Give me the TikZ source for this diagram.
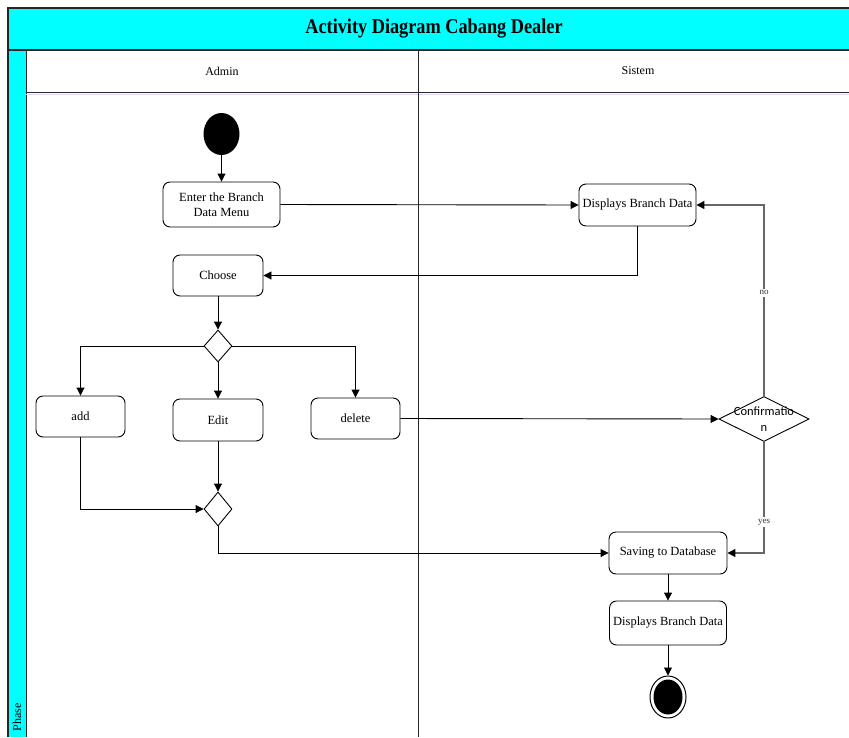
\documentclass[tikz,border=0pt]{standalone}
\usepackage{fontspec}
\setmainfont{Liberation Serif}
\newfontfamily\carlito{Carlito}
\usetikzlibrary{arrows.meta,shapes.geometric,calc}
\definecolor{cyanband}{RGB}{0,255,255}
\tikzset{
  actbox/.style={draw=black,rounded corners=7pt,fill=white,line width=0.9pt,inner sep=2pt,align=center,font=\fontsize{12.5}{14.5}\selectfont},
  dec/.style={draw=black,diamond,aspect=0.875,fill=white,line width=0.9pt,inner sep=0pt},
  flow/.style={draw=black,line width=0.9pt,-{Triangle[length=8pt,width=8pt]}},
  gflow/.style={draw=black!60,line width=1.2pt,-{Triangle[length=8pt,width=8pt,fill=black,color=black]}},
  lbl/.style={font=\fontsize{9}{10}\selectfont,fill=white,inner sep=1.5pt,text=black!80}
}
\begin{document}
\begin{tikzpicture}[x=1pt,y=-1pt]
\useasboundingbox (0,0) rectangle (849,737);
% frame
\fill[white] (0,0) rectangle (849,737);
\fill[cyanband] (8,8) rectangle (849,50);
\fill[cyanband] (8,50) rectangle (26,737);
\draw[line width=1.2pt,black!85] (8,737) -- (8,8) -- (849,8);
\draw[line width=1.2pt,black!85] (8,50) -- (849,50);
\draw[line width=1pt,black!85] (26,50) -- (26,737);
\draw[line width=1pt,blue!15] (26,94) -- (849,94);
\draw[line width=1pt,black!85] (26,92) -- (849,92);
\draw[line width=1pt,black!85] (418,50) -- (418,737);
\node (title) at (434,29) {\scalebox{0.87}[1]{\fontsize{21}{24}\selectfont\bfseries Activity Diagram Cabang Dealer}};
\node (phase) [rotate=90,anchor=west,font=\fontsize{12}{14}\selectfont] at (17,735) {Phase};
\node (admin) at (222,71) {\fontsize{12}{14}\selectfont Admin};
\node (sistem) at (638,71) {\fontsize{12}{14}\selectfont Sistem};
% nodes
\node (start) [ellipse,fill=black,minimum width=36pt,minimum height=42pt,inner sep=0pt] at (221.5,134) {};
\node (enter) [actbox,minimum width=117pt,minimum height=45pt] at (221.5,204.5) {Enter the Branch\\Data Menu};
\node (disp1) [actbox,minimum width=117pt,minimum height=42pt] at (637.5,205) {Displays Branch Data};
\node (choose) [actbox,minimum width=90pt,minimum height=41pt] at (218,275.5) {Choose};
\node (d1) [dec,minimum width=28pt,minimum height=32pt] at (218,346) {};
\node (add) [actbox,minimum width=89pt,minimum height=41pt] at (80.5,416.5) {add};
\node (edit) [actbox,minimum width=90pt,minimum height=42pt] at (218,420) {Edit};
\node (delete) [actbox,minimum width=89pt,minimum height=41pt] at (355.5,418.5) {delete};
\node (conf) [dec,minimum width=90pt,minimum height=45pt] at (764,419) {};
\node (conftext) [font=\carlito\fontsize{12.5}{16}\selectfont,align=center] at (764,419) {Confirmatio\\n};
\node (d2) [dec,minimum width=28pt,minimum height=34pt] at (218,509) {};
\node (save) [actbox,minimum width=118pt,minimum height=42pt] at (668,553) {Saving to Database};
\node (disp2) [actbox,minimum width=117pt,minimum height=44pt] at (668,623) {Displays Branch Data};
\node (endo) [ellipse,draw=black,line width=1pt,fill=white,minimum width=36pt,minimum height=42pt,inner sep=0pt] at (668,697) {};
\node (endi) [ellipse,fill=black,minimum width=29pt,minimum height=35pt,inner sep=0pt] at (668,697) {};
% connectors
\draw[flow] (start) -- (enter);
\draw[flow] (enter.east) -- (disp1.west);
\draw[flow] (disp1.south) |- (choose.east);
\draw[flow] (choose) -- (d1);
\draw[flow] (d1.west) -| (add.north);
\draw[flow] (d1.south) -- (edit.north);
\draw[flow] (d1.east) -| (delete.north);
\draw[flow] (delete.east) -- (conf.west);
\draw[gflow] (conf.north) |- node[lbl,pos=0.27] {no} (disp1.east);
\draw[gflow] (conf.south) |- node[lbl,pos=0.36] {yes} (save.east);
\draw[flow] (edit.south) -- (d2.north);
\draw[flow] (add.south) |- (d2.west);
\draw[flow] (d2.south) |- (save.west);
\draw[flow] (save) -- (disp2);
\draw[flow] (disp2) -- (endo);
\end{tikzpicture}
\end{document}
